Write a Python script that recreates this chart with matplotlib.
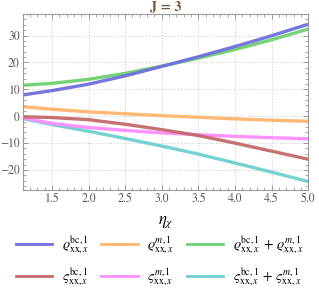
import matplotlib.pyplot as plt
import numpy as np
from matplotlib.ticker import MultipleLocator
from matplotlib.lines import Line2D

plt.rcParams['mathtext.fontset'] = 'stix'
plt.rcParams['font.family'] = ['STIXGeneral', 'DejaVu Serif']

eta = [1.1, 1.5, 2.0, 2.5, 3.0, 3.5, 4.0, 4.5, 5.0]
rho_bc = [7.9, 9.5, 11.9, 15.0, 18.5, 22.1, 25.9, 29.9, 34.2]
rho_m = [3.5, 2.6, 1.6, 0.9, 0.2, -0.4, -1.0, -1.5, -1.9]
rho_sum = [11.5, 12.2, 13.7, 15.9, 18.6, 21.6, 24.8, 28.4, 32.4]
sig_bc = [-0.2, -0.5, -1.3, -3.0, -5.0, -7.2, -10.0, -13.0, -16.0]
sig_m = [-0.6, -2.7, -4.2, -5.3, -6.2, -6.9, -7.5, -8.0, -8.4]
sig_sum = [-0.9, -3.1, -5.6, -8.3, -11.1, -14.1, -17.4, -20.8, -24.3]

series = [
    (rho_bc, '#6f6fdc', r'$\varrho^{\mathrm{bc},1}_{\mathrm{xx},x}$'),
    (rho_m, '#ffb46e', r'$\varrho^{m,1}_{\mathrm{xx},x}$'),
    (rho_sum, '#6fd06f', r'$\varrho^{\mathrm{bc},1}_{\mathrm{xx},x}\,+\,\varrho^{m,1}_{\mathrm{xx},x}$'),
    (sig_bc, '#c46a6a', r'$\varsigma^{\mathrm{bc},1}_{\mathrm{xx},x}$'),
    (sig_m, '#ff8cff', r'$\varsigma^{m,1}_{\mathrm{xx},x}$'),
    (sig_sum, '#6fcfcf', r'$\varsigma^{\mathrm{bc},1}_{\mathrm{xx},x}\,+\,\varsigma^{m,1}_{\mathrm{xx},x}$'),
]

fig = plt.figure(figsize=(3.19, 2.98), dpi=100)
ax = fig.add_axes([0.071, 0.362, 0.895, 0.591])

# draw sigma curves first, rho on top
for vals, col, lab in series[::-1]:
    ax.plot(eta, vals, color=col, lw=2.4, alpha=0.95, solid_capstyle='butt')

ax.set_xlim(1.1, 5.0)
ax.set_ylim(-27.5, 38)
ax.xaxis.set_major_locator(MultipleLocator(0.5))
ax.xaxis.set_minor_locator(MultipleLocator(0.1))
ax.yaxis.set_major_locator(MultipleLocator(10))
ax.yaxis.set_minor_locator(MultipleLocator(2))
ax.set_xticks(np.arange(1.5, 5.01, 0.5))
ax.tick_params(which='both', direction='in', top=True, right=True, color='#888888',
               labelsize=8.5, labelcolor='#555555', pad=2)
ax.tick_params(which='major', length=3.5, width=0.6)
ax.tick_params(which='minor', length=2, width=0.5)
ax.grid(True, which='major', color='#c8c8c8', linestyle=(0, (1, 2)), lw=0.7)
for s in ax.spines.values():
    s.set_color('#999999')
    s.set_linewidth(0.8)

ax.set_xlabel(r'$\eta_\chi$', fontsize=12, labelpad=7)
ax.set_title('J = 3', fontsize=10, color='#7a5a3a', fontweight='bold', pad=3)

# legend rows: rho on top, varsigma below (matplotlib fills by column)
order = [0, 3, 1, 4, 2, 5]
handles = [Line2D([0], [0], color=series[i][1], lw=2) for i in order]
labels = [series[i][2] for i in order]
fig.legend(handles, labels, loc='upper center', bbox_to_anchor=(0.5, 0.245), ncol=3,
           frameon=False, fontsize=10, handlelength=2.6, columnspacing=0.9,
           handletextpad=0.7, labelspacing=0.75, borderpad=0.2)

fig.savefig('out.png', dpi=100)
